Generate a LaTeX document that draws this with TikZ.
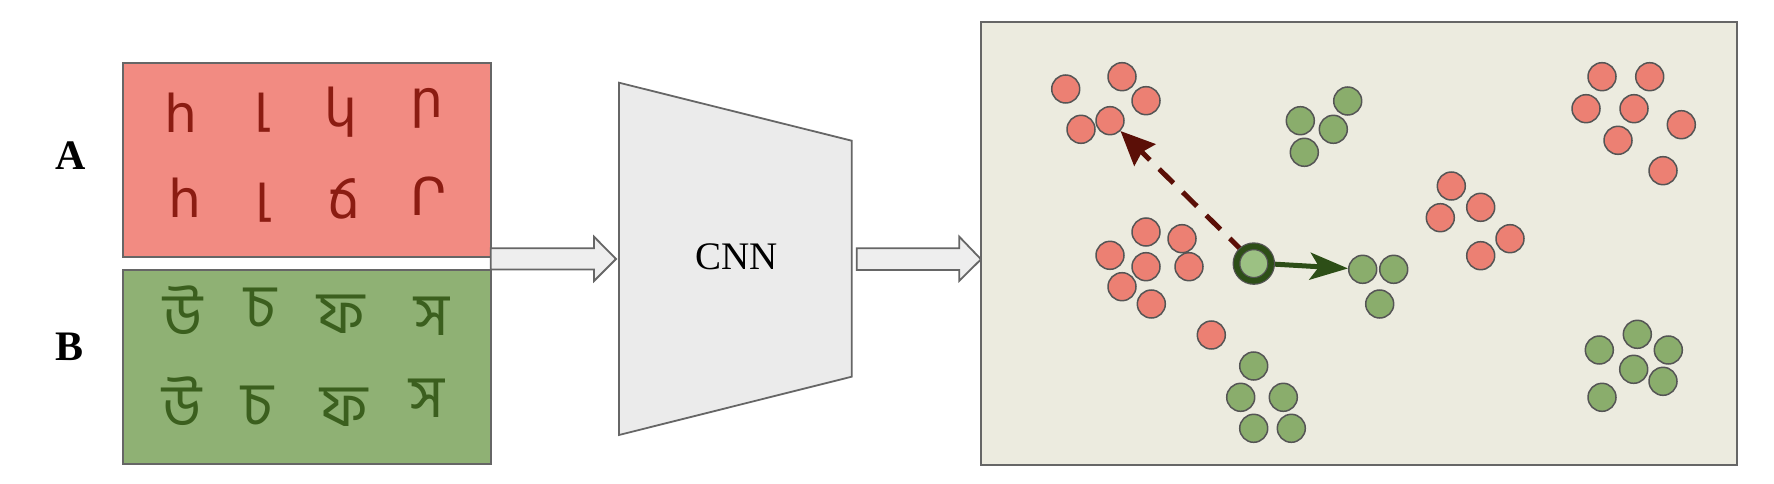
\documentclass[tikz,border=0pt]{standalone}
\usepackage{fontspec}
\setmainfont{Liberation Serif}
\newfontfamily\armfont{DejaVu Sans}
\newfontfamily\bngfont[Script=Bengali]{Hind Siliguri}
\usetikzlibrary{arrows.meta}
\definecolor{boxred}{HTML}{F28B82}
\definecolor{boxgreen}{HTML}{8FB174}
\definecolor{panelbg}{HTML}{ECEBDF}
\definecolor{edgegray}{HTML}{666666}
\definecolor{dotline}{HTML}{555555}
\definecolor{dotred}{HTML}{EC8073}
\definecolor{dotgreen}{HTML}{8AAD6C}
\definecolor{anchorfill}{HTML}{9CC183}
\definecolor{darkred}{HTML}{5B0F07}
\definecolor{darkgreen}{HTML}{2D4E17}
\definecolor{armcol}{HTML}{8B1C12}
\definecolor{bngcol}{HTML}{3B5F1E}
\definecolor{cnnfill}{HTML}{EBEBEB}
\definecolor{arrfill}{HTML}{EEEEEE}
\tikzset{
  dotbase/.style={circle, minimum size=28pt, inner sep=0pt, draw=dotline, line width=1.5pt},
  dotr/.style={dotbase, fill=dotred},
  dotg/.style={dotbase, fill=dotgreen},
  armch/.style={text=armcol, font=\armfont\fontsize{52}{52}\selectfont, inner sep=0pt},
  bngch/.style={text=bngcol, font=\bngfont\fontsize{60}{60}\selectfont, inner sep=0pt},
  panelbox/.style={draw=edgegray, line width=2pt, inner sep=0pt, anchor=north west},
  blockarrow/.style={draw=edgegray, fill=arrfill, line width=1.8pt, line join=miter},
  lbl/.style={font=\bfseries\fontsize{42}{42}\selectfont, anchor=west, inner sep=0pt}
}
\begin{document}
\begin{tikzpicture}[x=1pt,y=-1pt]
\useasboundingbox (0,0) rectangle (1774,484);
% left boxes
\node[panelbox, fill=boxred, minimum width=368pt, minimum height=194pt] (boxA) at (121.7,61.7) {};
\node[panelbox, fill=boxgreen, minimum width=368pt, minimum height=194pt] (boxB) at (121.7,269) {};
\node[lbl] (labA) at (55,156) {A};
\node[lbl] (labB) at (55,346.7) {B};
% Armenian
\node[armch] (a1) at (180.8,112.5) {հ};
\node[armch] (a2) at (261.7,113) {լ};
\node[armch] (a3) at (340.8,111.7) {կ};
\node[armch] (a4) at (426.7,108.3) {ր};
\node[armch] (a5) at (185,197.5) {հ};
\node[armch] (a6) at (262.5,203) {լ};
\node[armch] (a7) at (344,199) {ճ};
\node[armch] (a8) at (429,195.8) {Ր};
% Bengali
\node[bngch] (b1) at (183.3,310.8) {উ};
\node[bngch] (b2) at (260.8,307.5) {চ};
\node[bngch] (b3) at (340.8,314) {ফ};
\node[bngch] (b4) at (431.7,316.7) {স};
\node[bngch] (b5) at (182.5,401.7) {উ};
\node[bngch] (b6) at (257.5,405.8) {চ};
\node[bngch] (b7) at (344,407.5) {ফ};
\node[bngch] (b8) at (426.7,398.3) {স};
% arrow 1
\draw[blockarrow] (490.7,248.3) -- (594,248.3) -- (594,236.7) -- (616,259) -- (594,281) -- (594,269.5) -- (490.7,269.5) -- cycle;
% CNN trapezoid
\draw[draw=edgegray, fill=cnnfill, line width=1.8pt, line join=miter] (619,82.7) -- (851.7,140.7) -- (851.7,376.7) -- (619,435) -- cycle;
\node[font=\fontsize{39}{39}\selectfont, inner sep=0pt] (cnn) at (736.7,257) {CNN};
% arrow 2
\draw[blockarrow] (856.7,248.3) -- (959.3,248.3) -- (959.3,236.7) -- (981,259.3) -- (959.3,280.7) -- (959.3,270) -- (856.7,270) -- cycle;
% panel
\node[panelbox, fill=panelbg, minimum width=755.7pt, minimum height=443.3pt] (panel) at (980,21) {};
% red cluster top-left
\node[dotr] (r1) at (1065.7,89) {};
\node[dotr] (r2) at (1122,76.7) {};
\node[dotr] (r3) at (1146,100.7) {};
\node[dotr] (r5) at (1081,129.3) {};
\node[dotr] (r4) at (1110,120.7) {};
% green cluster top-middle
\node[dotg] (g1) at (1347.7,101) {};
\node[dotg] (g2) at (1300.3,120.7) {};
\node[dotg] (g3) at (1333.3,129.3) {};
\node[dotg] (g4) at (1304.3,152.3) {};
% red cluster middle
\node[dotr] (r6) at (1146,232) {};
\node[dotr] (r7) at (1182,238.7) {};
\node[dotr] (r8) at (1110,255.3) {};
\node[dotr] (r9) at (1146,266.7) {};
\node[dotr] (r10) at (1189,266.7) {};
\node[dotr] (r11) at (1122,286.7) {};
\node[dotr] (r12) at (1151.3,304) {};
\node[dotr] (r13) at (1211.3,335) {};
% green cluster bottom
\node[dotg] (g5) at (1253.7,366) {};
\node[dotg] (g6) at (1240.7,397.3) {};
\node[dotg] (g7) at (1283.3,397.3) {};
\node[dotg] (g8) at (1253.7,428.3) {};
\node[dotg] (g9) at (1291.3,428.3) {};
% green cluster right of anchor
\node[dotg] (g10) at (1362.7,269.3) {};
\node[dotg] (g11) at (1393.7,269.3) {};
\node[dotg] (g12) at (1379.7,304) {};
% red cluster middle right
\node[dotr] (r14) at (1451.3,186) {};
\node[dotr] (r15) at (1480.7,207.3) {};
\node[dotr] (r16) at (1440.3,217.7) {};
\node[dotr] (r17) at (1510,238.7) {};
\node[dotr] (r18) at (1480.7,255.7) {};
% red cluster top right
\node[dotr] (r19) at (1602,76.7) {};
\node[dotr] (r20) at (1649.7,76.7) {};
\node[dotr] (r21) at (1586,108.7) {};
\node[dotr] (r22) at (1634,108.7) {};
\node[dotr] (r23) at (1681.3,124.7) {};
\node[dotr] (r24) at (1618,140.3) {};
\node[dotr] (r25) at (1663,170.7) {};
% green cluster bottom right
\node[dotg] (g13) at (1637.3,334.3) {};
\node[dotg] (g14) at (1599.3,350) {};
\node[dotg] (g15) at (1668.3,350) {};
\node[dotg] (g16) at (1633.7,369.3) {};
\node[dotg] (g17) at (1663,381.3) {};
\node[dotg] (g18) at (1602,397.3) {};
% arrows from anchor
\draw[darkred, line width=5pt, dash pattern=on 20pt off 13pt, -{Stealth[length=34pt, width=30pt, inset=4pt]}] (1244,252.5) -- (r4);
\draw[darkgreen, line width=5pt, -{Stealth[length=38pt, width=27pt, inset=9pt]}] (1272,264) -- (g10);
% anchor
\node[circle, minimum size=34.6pt, inner sep=0pt, fill=anchorfill, draw=dotline, double=darkgreen, double distance=5.5pt, line width=1.2pt] (anc) at (1253.8,263.6) {};
\end{tikzpicture}
\end{document}
